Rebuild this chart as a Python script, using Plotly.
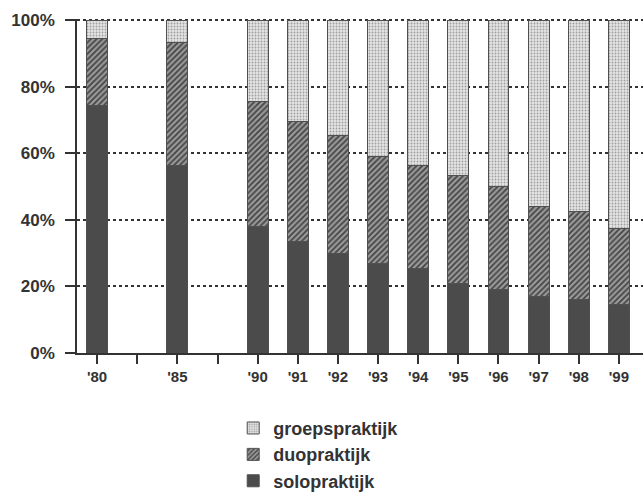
import plotly.graph_objects as go

years = ["'80", "'85", "'90", "'91", "'92", "'93", "'94", "'95", "'96", "'97", "'98", "'99"]
axis_categories = ["'80", " ", "'85", "  ", "'90", "'91", "'92", "'93", "'94", "'95", "'96", "'97", "'98", "'99"]
solo = [74.5, 56.5, 38, 33.5, 30, 27, 25.5, 21, 19, 17, 16, 14.5]
duo = [20, 36.7, 37.5, 36, 35.5, 32, 31, 32.5, 31, 27, 26.5, 23]
groep = [round(100 - s - d, 1) for s, d in zip(solo, duo)]
y_ticks = [0, 20, 40, 60, 80, 100]
y_tick_labels = ["0%", "20%", "40%", "60%", "80%", "100%"]

FAM = "Liberation Sans, Arial, sans-serif"
TXT = "#333333"
outline = dict(color="#505050", width=1)

fig = go.Figure()
fig.add_trace(go.Bar(
    x=years, y=solo, name="solopraktijk",
    marker=dict(color="#4b4b4b", line=outline),
    width=0.52,
))
fig.add_trace(go.Bar(
    x=years, y=duo, name="duopraktijk",
    marker=dict(color="#7a7a7a", line=outline,
                pattern=dict(shape="/", bgcolor="#9a9a9a", fgcolor="#444444",
                             size=4, solidity=0.45, fillmode="replace")),
    width=0.52,
))
fig.add_trace(go.Bar(
    x=years, y=groep, name="groepspraktijk",
    marker=dict(color="#dcdcdc", line=outline,
                pattern=dict(shape=".", bgcolor="#e4e4e4", fgcolor="#a0a0a0",
                             size=3, solidity=0.3, fillmode="replace")),
    width=0.52,
))

fig.update_layout(
    width=643, height=498,
    margin=dict(l=77, r=0, t=19, b=145, autoexpand=False),
    barmode="stack",
    plot_bgcolor="white", paper_bgcolor="white",
    font=dict(family=FAM, size=13, color=TXT, weight="bold"),
    showlegend=True,
    legend=dict(
        orientation="v", traceorder="reversed",
        x=0.276, xanchor="left", y=-0.17, yanchor="top",
        font=dict(family=FAM, size=18, color=TXT, weight="bold"),
        itemwidth=30,
        tracegroupgap=0,
    ),
)
fig.update_xaxes(
    type="category", categoryorder="array", categoryarray=axis_categories,
    range=[-0.5, 13.6], automargin=False,
    showline=True, linecolor=TXT, linewidth=1.5,
    ticks="outside", ticklen=9, tickcolor=TXT, tickwidth=1.5,
    showgrid=False,
    tickfont=dict(family=FAM, size=15, color=TXT, weight="bold"),
)
fig.update_yaxes(
    range=[0, 100.4], tickvals=y_ticks, ticktext=y_tick_labels, automargin=False,
    showline=True, linecolor=TXT, linewidth=1.5,
    ticks="outside", ticklen=10, tickcolor=TXT, tickwidth=1.5,
    ticklabelstandoff=7,
    showgrid=True, gridcolor=TXT, gridwidth=1.5, griddash="dot",
    zeroline=False,
    tickfont=dict(family=FAM, size=17, color=TXT, weight="bold"),
)

fig.write_html("out.html", config={"displayModeBar": False},
               post_script="document.body.style.margin='0';")
